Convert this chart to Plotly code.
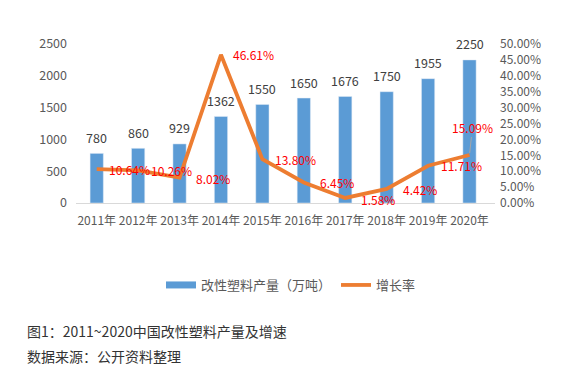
import plotly.graph_objects as go
from plotly.subplots import make_subplots

years = ["2011年", "2012年", "2013年", "2014年", "2015年", "2016年", "2017年", "2018年", "2019年", "2020年"]
output = [780, 860, 929, 1362, 1550, 1650, 1676, 1750, 1955, 2250]
growth = [10.64, 10.26, 8.02, 46.61, 13.80, 6.45, 1.58, 4.42, 11.71, 15.09]
left_ticks = [0, 500, 1000, 1500, 2000, 2500]
right_ticks = [0, 5, 10, 15, 20, 25, 30, 35, 40, 45, 50]

FONT = "Noto Sans CJK SC, Microsoft YaHei, sans-serif"
BLUE = "#5B9BD5"
ORANGE = "#ED7D31"
GRAY = "#595959"

L, R, T, B = 76, 86, 44, 175
W, H = 581, 378
PW, PH = W - L - R, H - T - B


def px(x):
    return (x - L) / PW


def py(y):
    return (H - B - y) / PH


fig = make_subplots(specs=[[{"secondary_y": True}]])
fig.add_trace(go.Bar(x=years, y=output, name="改性塑料产量（万吨）", marker_color=BLUE,
                     width=0.32, showlegend=False), secondary_y=False)
# legend proxy for the bar series (wide rectangle swatch)
fig.add_trace(go.Scatter(x=[None], y=[None], name="改性塑料产量（万吨）", mode="lines",
                         line=dict(color=BLUE, width=7)), secondary_y=False)
fig.add_trace(go.Scatter(x=years, y=growth, name="增长率", mode="lines",
                         line=dict(color=ORANGE, width=3.8)), secondary_y=True)

ann = []
for x, v in zip(years, output):
    ann.append(dict(x=x, y=v, xref="x", yref="y", text=str(v), showarrow=False,
                    yshift=16, font=dict(size=12.5, color="#404040", family=FONT)))
for i, (x, g) in enumerate(zip(years, growth)):
    if i == len(years) - 1:
        ann.append(dict(x=x, y=g, xref="x", yref="y2", text=f"{g:.2f}%", showarrow=True,
                        arrowhead=0, arrowwidth=1, arrowcolor="#A6A6A6", ax=3, ay=-28,
                        standoff=2,
                        font=dict(size=12, color="#FF0000", family=FONT)))
    else:
        yoff = {2: -1, 6: -2, 7: -1}.get(i, 0)
        ann.append(dict(x=x, y=g, xref="x", yref="y2", text=f"{g:.2f}%", showarrow=False,
                        xshift=33, yshift=yoff,
                        font=dict(size=12, color="#FF0000", family=FONT)))

ann.append(dict(x=px(25), y=py(331), xref="paper", yref="paper", xanchor="left",
                yanchor="middle", text="图1：2011~2020中国改性塑料产量及增速", showarrow=False,
                font=dict(size=14, color="#333333", family=FONT)))
ann.append(dict(x=px(25), y=py(356), xref="paper", yref="paper", xanchor="left",
                yanchor="middle", text="数据来源：公开资料整理", showarrow=False,
                font=dict(size=14, color="#333333", family=FONT)))

fig.update_layout(
    width=W, height=H,
    margin=dict(l=L, r=R, t=T, b=B, autoexpand=False),
    paper_bgcolor="white", plot_bgcolor="white",
    font=dict(family=FONT, size=12, color=GRAY),
    showlegend=True,
    legend=dict(orientation="h", x=px(291), xanchor="center", y=py(285), yanchor="middle",
                font=dict(size=13, color=GRAY, family=FONT), itemwidth=30,
                traceorder="normal"),
    annotations=ann,
)

fig.update_xaxes(domain=[0, 1], showgrid=False, showline=True, linecolor="#D9D9D9", linewidth=1,
                 ticks="", tickangle=0, automargin=False, ticklabelstandoff=7,
                 tickfont=dict(size=12, color=GRAY))
fig.update_yaxes(range=[0, 2500], tickvals=left_ticks, showgrid=False, zeroline=False,
                 automargin=False, ticklabelstandoff=8,
                 tickfont=dict(size=12.5, color=GRAY), secondary_y=False)
fig.update_yaxes(range=[0, 50], tickvals=right_ticks, automargin=False, ticklabelstandoff=4,
                 ticktext=[f"{t:.2f}%" for t in right_ticks], showgrid=False, zeroline=False,
                 tickfont=dict(size=12, color=GRAY), secondary_y=True)

fig.write_html("out.html", config={"displayModeBar": False},
               post_script="document.body.style.margin='0';")
